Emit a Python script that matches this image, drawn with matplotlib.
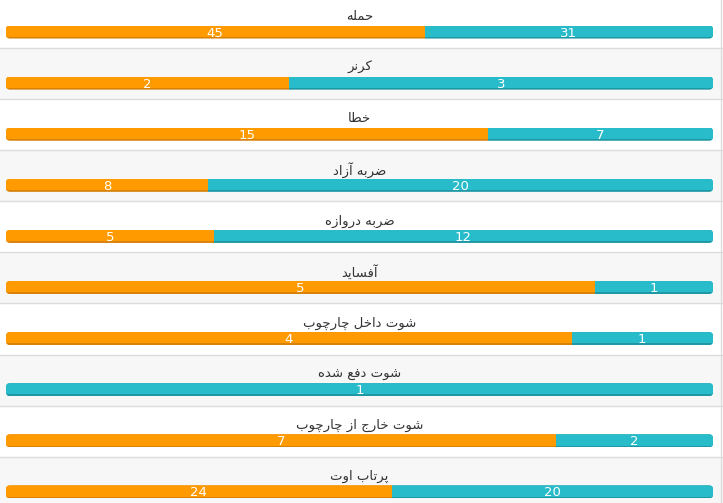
import matplotlib
matplotlib.use("Agg")
import matplotlib.pyplot as plt
from matplotlib.patches import FancyBboxPatch

# داده‌ها
labels = ["حمله", "کرنر", "خطا", "ضربه آزاد", "ضربه دروازه", "آفساید",
          "شوت داخل چارچوب", "شوت دفع شده", "شوت خارج از چارچوب", "پرتاب اوت"]
home = [45, 2, 15, 8, 5, 5, 4, 0, 7, 24]
away = [31, 3, 7, 20, 12, 1, 1, 1, 2, 20]

ORANGE = "#ff9a00"
ORANGE_DARK = "#d9820a"
TEAL = "#28bbca"
TEAL_DARK = "#1f98a6"

# اشکال حروف: (مجزا، پایانی، آغازی، میانی)
FORMS = {
    "ا": ("\uFE8D", "\uFE8E", None, None),
    "آ": ("\uFE81", "\uFE82", None, None),
    "ب": ("\uFE8F", "\uFE90", "\uFE91", "\uFE92"),
    "ت": ("\uFE95", "\uFE96", "\uFE97", "\uFE98"),
    "ج": ("\uFE9D", "\uFE9E", "\uFE9F", "\uFEA0"),
    "ح": ("\uFEA1", "\uFEA2", "\uFEA3", "\uFEA4"),
    "خ": ("\uFEA5", "\uFEA6", "\uFEA7", "\uFEA8"),
    "د": ("\uFEA9", "\uFEAA", None, None),
    "ر": ("\uFEAD", "\uFEAE", None, None),
    "ز": ("\uFEAF", "\uFEB0", None, None),
    "س": ("\uFEB1", "\uFEB2", "\uFEB3", "\uFEB4"),
    "ش": ("\uFEB5", "\uFEB6", "\uFEB7", "\uFEB8"),
    "ض": ("\uFEBD", "\uFEBE", "\uFEBF", "\uFEC0"),
    "ط": ("\uFEC1", "\uFEC2", "\uFEC3", "\uFEC4"),
    "ع": ("\uFEC9", "\uFECA", "\uFECB", "\uFECC"),
    "ف": ("\uFED1", "\uFED2", "\uFED3", "\uFED4"),
    "ل": ("\uFEDD", "\uFEDE", "\uFEDF", "\uFEE0"),
    "م": ("\uFEE1", "\uFEE2", "\uFEE3", "\uFEE4"),
    "ن": ("\uFEE5", "\uFEE6", "\uFEE7", "\uFEE8"),
    "ه": ("\uFEE9", "\uFEEA", "\uFEEB", "\uFEEC"),
    "و": ("\uFEED", "\uFEEE", None, None),
    "ی": ("\uFBFC", "\uFBFD", "\uFBFE", "\uFBFF"),
    "ک": ("\uFB8E", "\uFB8F", "\uFB90", "\uFB91"),
    "پ": ("\uFB56", "\uFB57", "\uFB58", "\uFB59"),
    "چ": ("\uFB7A", "\uFB7B", "\uFB7C", "\uFB7D"),
}


def shape_rtl(text):
    out = []
    for i, ch in enumerate(text):
        if ch not in FORMS:
            out.append(ch)
            continue
        prev = text[i - 1] if i > 0 else ""
        nxt = text[i + 1] if i + 1 < len(text) else ""
        f = FORMS[ch]
        join_prev = prev in FORMS and FORMS[prev][2] is not None
        join_next = f[2] is not None and nxt in FORMS
        if join_prev and join_next:
            out.append(f[3])
        elif join_prev:
            out.append(f[1])
        elif join_next:
            out.append(f[2])
        else:
            out.append(f[0])
    return "".join(reversed(out))


plt.rcParams["font.family"] = ["DejaVu Sans"]

W, H = 723, 503
fig = plt.figure(figsize=(W / 100, H / 100), dpi=100)
ax = fig.add_axes([0, 0, 1, 1])

bar_px = 707.0
row_px = 51.1
ax.set_xlim(-6 / bar_px, (W - 6) / bar_px)
ax.set_ylim((H + 3.1) / row_px, 3.1 / row_px)
ax.axis("off")

bar_top = 0.56
bar_h = 0.255
edge_h = 0.035
r = 4 / bar_px
aspect = bar_px / row_px

for i, (lab, h, a) in enumerate(zip(labels, home, away)):
    if i % 2 == 1:
        ax.axhspan(i, i + 1, color="#f7f7f7", lw=0, zorder=0)
    if i > 0:
        ax.axhline(i, color="#dcdcdc", lw=1, zorder=1)

    total = h + a
    fh = h / total
    fa = a / total

    clip = FancyBboxPatch((0, i + bar_top), 1, bar_h,
                          boxstyle=f"round,pad=0,rounding_size={r}",
                          mutation_aspect=aspect, fc="none", ec="none")
    ax.add_patch(clip)

    parts = [
        ax.barh(i + bar_top, fh, left=0, height=bar_h, align="edge",
                color=ORANGE_DARK, lw=0, zorder=2),
        ax.barh(i + bar_top, fa, left=fh, height=bar_h, align="edge",
                color=TEAL_DARK, lw=0, zorder=2),
        ax.barh(i + bar_top, fh, left=0, height=bar_h - edge_h, align="edge",
                color=ORANGE, lw=0, zorder=3),
        ax.barh(i + bar_top, fa, left=fh, height=bar_h - edge_h, align="edge",
                color=TEAL, lw=0, zorder=3),
    ]
    for cont in parts:
        for p in cont:
            p.set_clip_path(clip)

    yc = i + bar_top + bar_h / 2 + 0.02
    if h > 0:
        ax.text(fh / 2, yc, str(h), color="white", fontsize=9.5,
                ha="center", va="center", zorder=4)
    if a > 0:
        ax.text(fh + fa / 2, yc, str(a), color="white", fontsize=9.5,
                ha="center", va="center", zorder=4)

    ax.text(0.5, i + 0.385, shape_rtl(lab), color="#333333", fontsize=9.5,
            ha="center", va="center", zorder=4)

ax.axvline((W - 2 - 6) / bar_px, color="#dcdcdc", lw=1, zorder=1)

fig.savefig("out.png", dpi=100)
